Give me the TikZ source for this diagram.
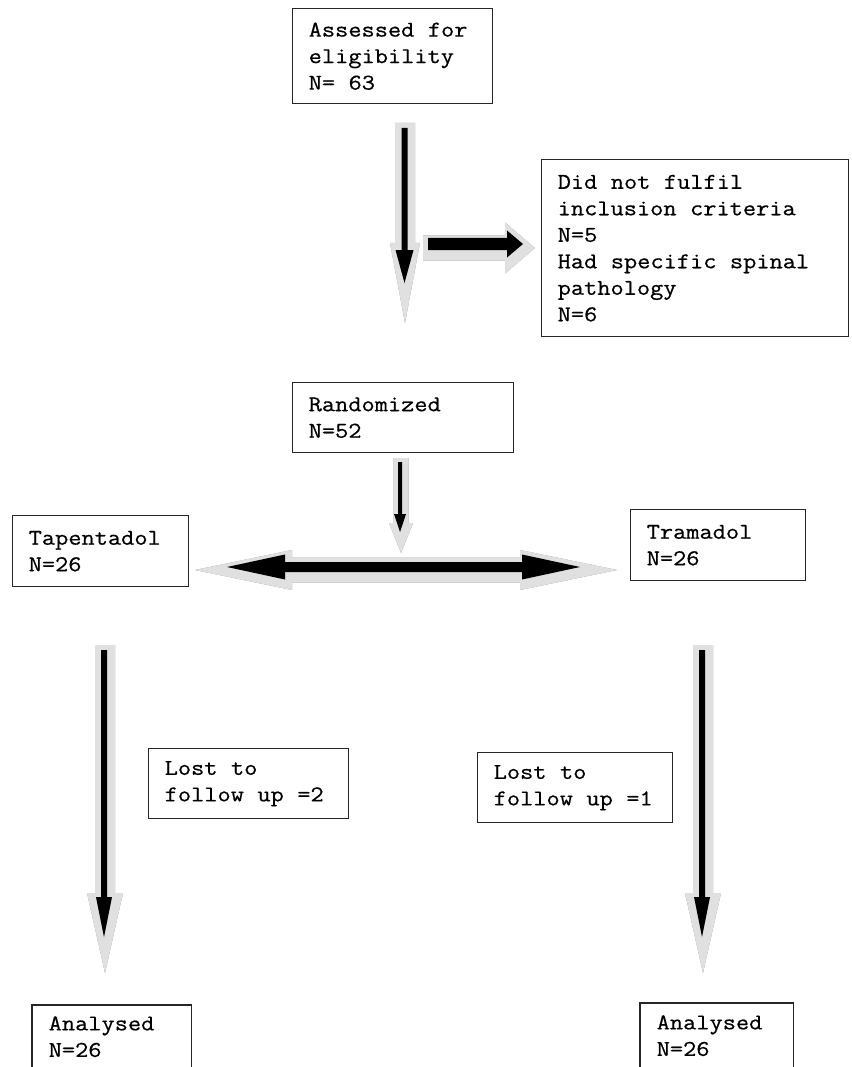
\documentclass[tikz,border=0pt]{standalone}
\usepackage{fontspec}
\newfontfamily\courfont{Latin Modern Mono}[FakeStretch=1.14, FakeBold=0.6]
\newcommand\boxfont{\courfont\fontsize{22.5}{26.5}\selectfont}
\newcommand\fixspace{\spaceskip=13.47pt\relax\xspaceskip=13.47pt\relax}
\newcommand\blockarr[7]{%
  \path[#7, shift={(#1)}, rotate=#2] (0,-#4) -- ({#3-#6},-#4) -- ({#3-#6},-#5) -- (#3,0) -- ({#3-#6},#5) -- ({#3-#6},#4) -- (0,#4) -- cycle;}
\newcommand\dblarr[6]{%
  \path[#6, shift={(#1)}] (0,0) -- (#5,-#4) -- (#5,-#3) -- ({#2-#5},-#3) -- ({#2-#5},-#4) -- (#2,0) -- ({#2-#5},#4) -- ({#2-#5},#3) -- (#5,#3) -- (#5,#4) -- cycle;}
\tikzset{
  bx/.style={draw=black!85, line width=1.4pt, anchor=north west, align=left,
    inner xsep=16pt, inner ysep=0pt, font=\boxfont, execute at begin node=\fixspace},
  obx/.style={bx, draw=none},
  ghostshadow/.style={fill=black!45, shift={(2.5,2.5)}},
  ghost/.style={fill=black!12},
  solid arrow/.style={fill=black}
}
\begin{document}
\begin{tikzpicture}[x=1pt,y=-1pt]
\useasboundingbox (0,0) rectangle (851,1067);
% boxes
\node[bx, text width=168pt, minimum height=95pt] (assess) at (292,8) {Assessed for\\eligibility\\N= 63};
\node[bx, text width=275pt, minimum height=177pt] (excl) at (541,159) {Did not fulfil\\inclusion criteria\\N=5\\Had specific spinal\\pathology\\N=6};
\node[bx, text width=189pt, minimum height=70pt] (rand) at (292,382) {Randomized\\N=52};
\node[bx, text width=144pt, minimum height=71pt] (tap) at (12,515) {Tapentadol\\N=26};
\node[bx, text width=143pt, minimum height=71pt] (tram) at (630,509) {Tramadol\\N=26};
\node[bx, text width=168pt, minimum height=70pt] (lost2) at (148,748) {Lost to\\follow up =2};
\node[bx, text width=163pt, minimum height=70pt] (lost1) at (477,752) {Lost to\\follow up =1};
\node[obx, text width=126pt, minimum height=62pt] (anL) at (32,1005) {Analysed\\N=26};
\node[obx, text width=120pt, minimum height=64pt] (anR) at (640,1003) {Analysed\\N=26};
\draw[black!85, line width=1.4pt] (anL.south west) -- (anL.north west) -- (anL.north east) -- (anL.south east);
\draw[black!85, line width=1.4pt] (anR.south west) -- (anR.north west) -- (anR.north east) -- (anR.south east);
% arrow anchor coordinates
\coordinate (a1g) at (405,123);   \coordinate (a1b) at (404.5,128);
\coordinate (a2g) at (423,248);   \coordinate (a2b) at (428,244);
\coordinate (a3g) at (401,458);   \coordinate (a3b) at (400,462);
\coordinate (a4g) at (195,570);   \coordinate (a4b) at (227,567);
\coordinate (a5g) at (105,645);   \coordinate (a5b) at (104,650);
\coordinate (a6g) at (703,645);   \coordinate (a6b) at (702,650);
% arrow 1: assessed -> down
\blockarr{a1g}{-90}{200}{10}{15}{80}{ghostshadow}
\blockarr{a1g}{-90}{200}{10}{15}{80}{ghost}
\blockarr{a1b}{-90}{155}{3}{9}{33}{solid arrow}
% arrow 2: -> exclusions
\blockarr{a2g}{0}{112}{12.5}{25.5}{30}{ghostshadow}
\blockarr{a2g}{0}{112}{12.5}{25.5}{30}{ghost}
\blockarr{a2b}{0}{95}{6}{13.5}{16}{solid arrow}
% arrow 3: randomized -> split
\blockarr{a3g}{-90}{95}{7.5}{12}{30}{ghostshadow}
\blockarr{a3g}{-90}{95}{7.5}{12}{30}{ghost}
\blockarr{a3b}{-90}{70}{2}{6}{18}{solid arrow}
% arrow 4: double
\dblarr{a4g}{422}{12.5}{20}{97}{ghostshadow}
\dblarr{a4g}{422}{12.5}{20}{97}{ghost}
\dblarr{a4b}{353}{5}{12.5}{58}{solid arrow}
% arrow 5 and 6
\blockarr{a5g}{-90}{328}{10}{18}{80}{ghostshadow}
\blockarr{a5g}{-90}{328}{10}{18}{80}{ghost}
\blockarr{a5b}{-90}{287}{3}{8}{40}{solid arrow}
\blockarr{a6g}{-90}{328}{10}{18}{80}{ghostshadow}
\blockarr{a6g}{-90}{328}{10}{18}{80}{ghost}
\blockarr{a6b}{-90}{287}{3}{8}{40}{solid arrow}
\end{tikzpicture}
\end{document}
